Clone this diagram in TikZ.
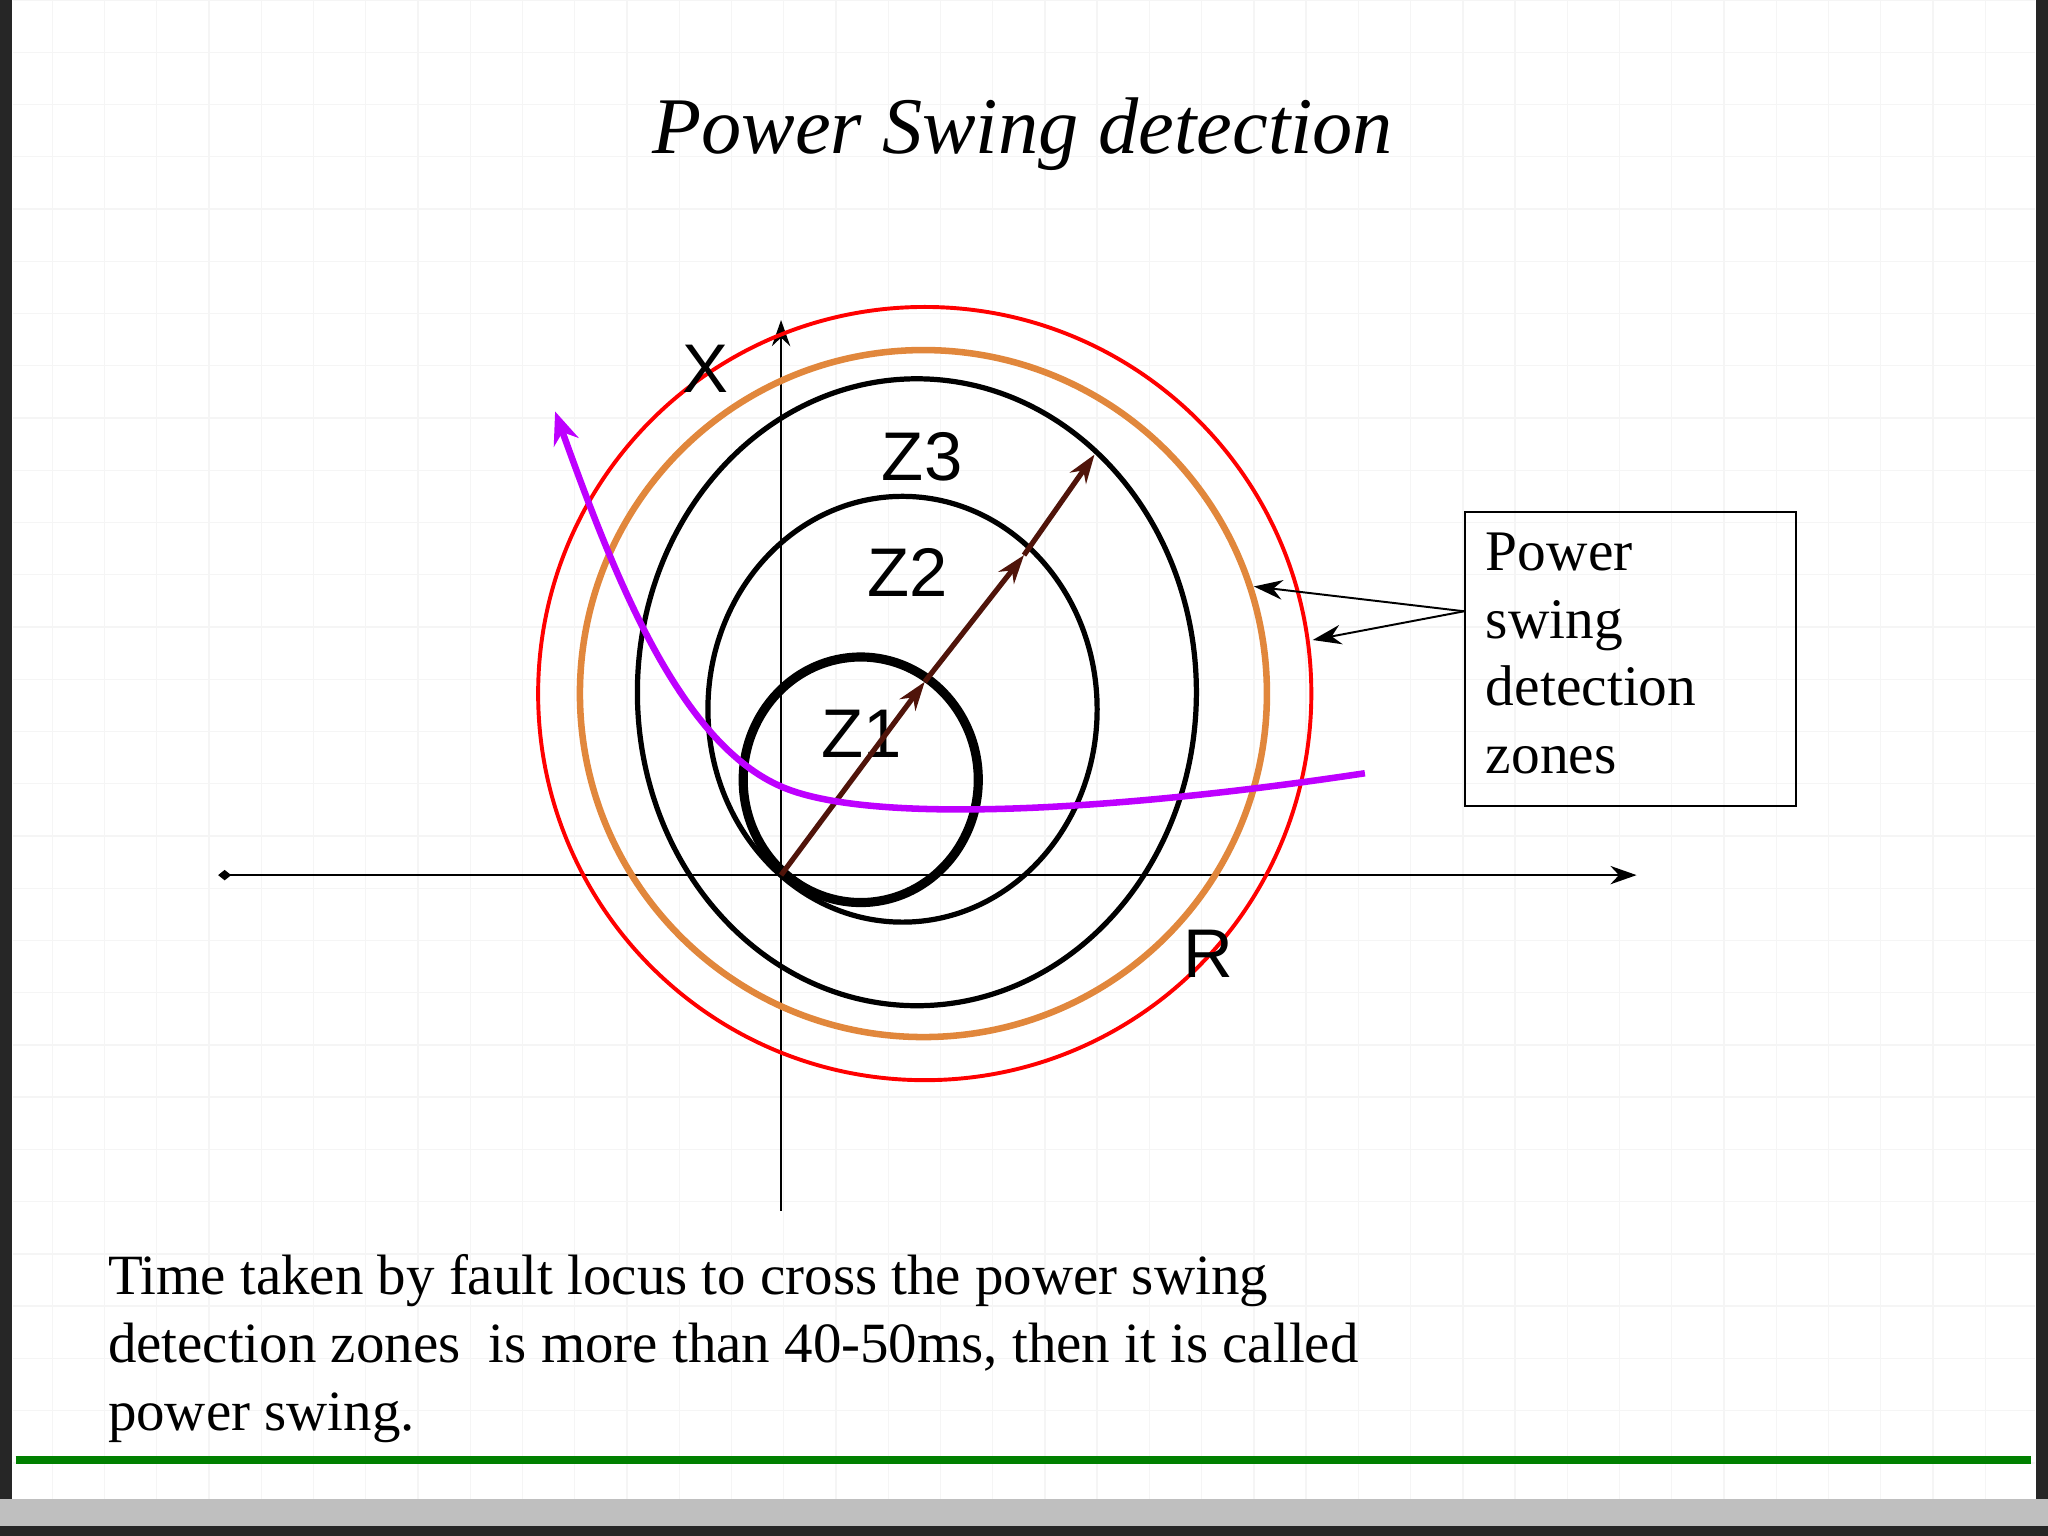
\documentclass[tikz,border=0pt]{standalone}
\usepackage{fontspec}
\setmainfont{Liberation Serif}
\newfontfamily\lsans{Liberation Sans}
\usetikzlibrary{arrows.meta}
\definecolor{orng}{RGB}{225,135,60}
\definecolor{brwn}{RGB}{80,20,10}
\definecolor{locus}{RGB}{190,0,255}
\begin{document}
\begin{tikzpicture}[x=0.1mm,y=-0.1mm,
  zlab/.style={font=\lsans\fontsize{15}{15}\selectfont},
  ptr/.style={-{Stealth[length=2.2mm,width=1.5mm]},line width=0.25mm}]
\useasboundingbox (0,0) rectangle (1568,1176);
\fill[white] (0,0) rectangle (1568,1176);
\draw[black!4,line width=0.1mm] (10,0) grid[step=4mm] (1558,1150);
\fill[black!85] (0,0) rectangle (9,1176);
\fill[black!85] (1559,0) rectangle (1568,1176);
\fill[black!25] (0,1148) rectangle (1568,1176);
\fill[black!85] (0,1168) rectangle (1568,1176);
\draw[green!50!black,line width=0.6mm] (12,1118) -- (1555,1118);
\node[font=\itshape\fontsize{17.5}{18}\selectfont] (title) at (783,103) {Power Swing detection};
% axes
\coordinate (xl) at (172,670); \coordinate (xr) at (1253,670);
\coordinate (yt) at (598,245); \coordinate (yb) at (598,927);
\draw[line width=0.2mm,-{Stealth[length=2mm,width=1.4mm]}] (xl) -- (xr);
\fill (xl) ++(-5,0) -- ++(5,-4) -- ++(5,4) -- ++(-5,4) -- cycle;
\draw[line width=0.2mm,-{Stealth[length=2mm,width=1.4mm]}] (yb) -- (yt);
% circles
\draw[red,line width=0.3mm] (708,531) circle[radius=29.6mm];
\draw[orng,line width=0.5mm] (707,531) circle[radius=26.3mm];
\draw[line width=0.4mm] (702,530) ellipse[x radius=21.4mm,y radius=24mm];
\draw[line width=0.4mm] (691,543) ellipse[x radius=14.9mm,y radius=16.3mm];
\draw[line width=0.7mm] (659,597) ellipse[x radius=9.0mm,y radius=9.4mm];
\node[zlab] (lx) at (540,282) {X};
\node[zlab] (lr) at (925,730) {R};
\node[zlab] (z3) at (706,350) {Z3};
\node[zlab] (z2) at (695,438) {Z2};
\node[zlab] (z1) at (660,562) {Z1};
% brown arrow
\coordinate (o) at (598,670); \coordinate (p1) at (708,522);
\coordinate (p2) at (784,425); \coordinate (p3) at (838,348);
\draw[ptr,brwn,line width=0.4mm] (o) -- (p1);
\draw[ptr,brwn,line width=0.4mm] (p1) -- (p2);
\draw[ptr,brwn,line width=0.4mm] (p2) -- (p3);
% locus
\coordinate (ls) at (1045,592); \coordinate (le) at (425,315);
\draw[{Stealth[length=2.5mm,width=2mm]}-,locus,line width=0.5mm]
 (le) .. controls (470,440) and (520,570) .. (600,603)
 .. controls (670,632) and (860,620) .. (ls);
% box
\node[draw,line width=0.15mm,minimum width=25.3mm,minimum height=22.5mm,anchor=north west,inner sep=0] (box) at (1121,391) {};
\node[anchor=north west,align=left,font=\fontsize{12.5}{14.8}\selectfont,inner sep=0] (boxt) at (1137,407) {Power\\swing\\detection\\zones};
\coordinate (bp) at (1121,468);
\draw[ptr,line width=0.15mm] (bp) -- (960,449);
\draw[ptr,line width=0.15mm] (bp) -- (1005,490);
\node[anchor=north west,align=left,font=\fontsize{12.4}{14.8}\selectfont,inner sep=0] (bot) at (82,960) {Time taken by fault locus to cross the power swing\\detection zones\ \ is more than 40-50ms, then it is called\\power swing.};
\end{tikzpicture}
\end{document}
